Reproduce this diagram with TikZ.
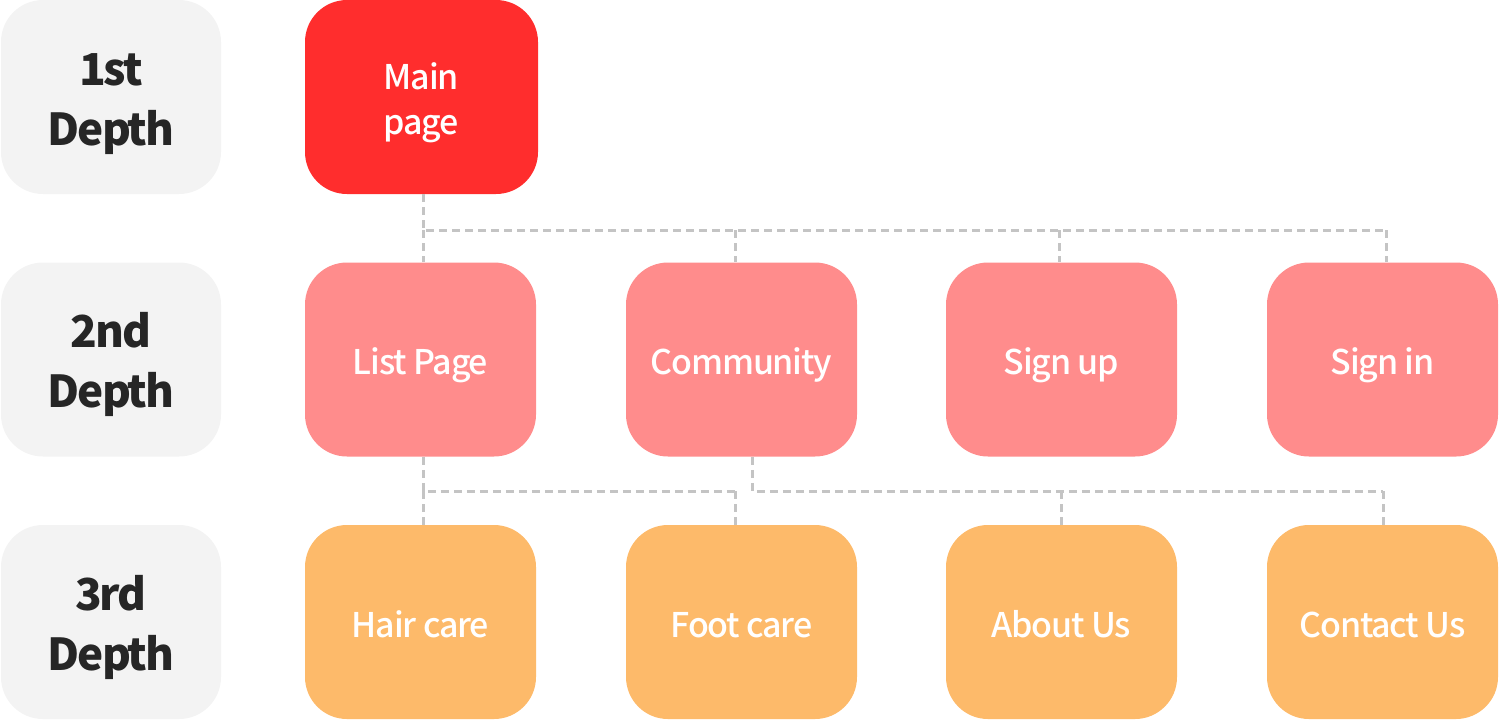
\documentclass[tikz,border=0pt]{standalone}
\usepackage{fontspec}
\setmainfont{Noto Sans CJK KR}
\newfontfamily\cardfont{Noto Sans CJK KR Medium}[LetterSpace=-3.6]
\newfontfamily\levelfont{Noto Sans CJK KR}[LetterSpace=-4.5]
\definecolor{lvlgray}{HTML}{F3F3F3}
\definecolor{lvltext}{HTML}{262626}
\definecolor{mainred}{HTML}{FF2D2D}
\definecolor{pagepink}{HTML}{FF8C8C}
\definecolor{suborange}{HTML}{FDBA6A}
\definecolor{linkgray}{HTML}{C4C4C4}
% text whose baseline sits at a given offset from the node centre
\newcommand\placedline[2]{\raisebox{#1}[0pt][0pt]{#2}}
\newcommand\placedlines[2]{\raisebox{#1}[0pt][0pt]{\begin{tabular}[t]{@{}c@{}}#2\end{tabular}}}
\begin{document}
\begin{tikzpicture}[x=0.5pt,y=-0.5pt,
  card/.style={rectangle, rounded corners=21pt, minimum width=115.5pt,
    minimum height=97pt, inner sep=0pt, text=white,
    font=\cardfont\fontsize{17}{22.5}\selectfont},
  level/.style={rectangle, rounded corners=21pt, fill=lvlgray, minimum width=110pt,
    minimum height=97pt, inner sep=0pt, text=lvltext,
    font=\levelfont\bfseries\fontsize{22}{30}\selectfont},
  top/.style={card, fill=mainred, minimum width=116.5pt},
  page/.style={card, fill=pagepink},
  sub/.style={card, fill=suborange},
  conn/.style={draw=linkgray, line width=1.5pt, dash pattern=on 4pt off 2.5pt}]
\useasboundingbox (0,0) rectangle (1499,719);

% depth labels
\node[level] (l1) at (111,97) {\placedlines{6pt}{1st\\Depth}};
\node[level] (l2) at (111,359.5) {\placedlines{6pt}{2nd\\Depth}};
\node[level] (l3) at (111,622) {\placedlines{6pt}{3rd\\Depth}};

% first depth
\node[top] (main) at (421.5,97) {\placedlines{3.75pt}{Main\\page}};

% second depth
\node[page] (list) at (420.5,359.5) {\placedline{-7.6pt}{List Page}};
\node[page] (comm) at (741.5,359.5) {\placedline{-7.6pt}{Community}};
\node[page] (signup) at (1061.5,359.5) {\placedline{-7.6pt}{Sign up}};
\node[page] (signin) at (1382.5,359.5) {\placedline{-7.6pt}{Sign in}};

% third depth
\node[sub] (hair) at (420.5,622) {\placedline{-7.6pt}{Hair care}};
\node[sub] (foot) at (741.5,622) {\placedline{-7.6pt}{Foot care}};
\node[sub] (about) at (1061.5,622) {\placedline{-7.6pt}{About Us}};
\node[sub] (contact) at (1382.5,622) {\placedline{-7.6pt}{Contact Us}};

% bus from the main page
\coordinate (b1) at (423,230);
\coordinate (b2) at (735,230);
\coordinate (b3) at (1059,230);
\coordinate (b4) at (1386,230);
\draw[conn] (main.south -| b1) -- (b1) -- (b4);
\draw[conn] (b1) -- (list.north -| b1);
\draw[conn] (b2) -- (comm.north -| b2);
\draw[conn] (b3) -- (signup.north -| b3);
\draw[conn] (b4) -- (signin.north -| b4);

% bus from the list page
\coordinate (c1) at (423,491);
\coordinate (c2) at (735,491);
\draw[conn] (list.south -| c1) -- (c1) -- (c2);
\draw[conn] (c1) -- (hair.north -| c1);
\draw[conn] (c2) -- (foot.north -| c2);

% bus from the community page
\coordinate (e1) at (752,491);
\coordinate (e2) at (1061,491);
\coordinate (e3) at (1383,491);
\draw[conn] (comm.south -| e1) -- (e1) -- (e3);
\draw[conn] (e2) -- (about.north -| e2);
\draw[conn] (e3) -- (contact.north -| e3);
\end{tikzpicture}
\end{document}
